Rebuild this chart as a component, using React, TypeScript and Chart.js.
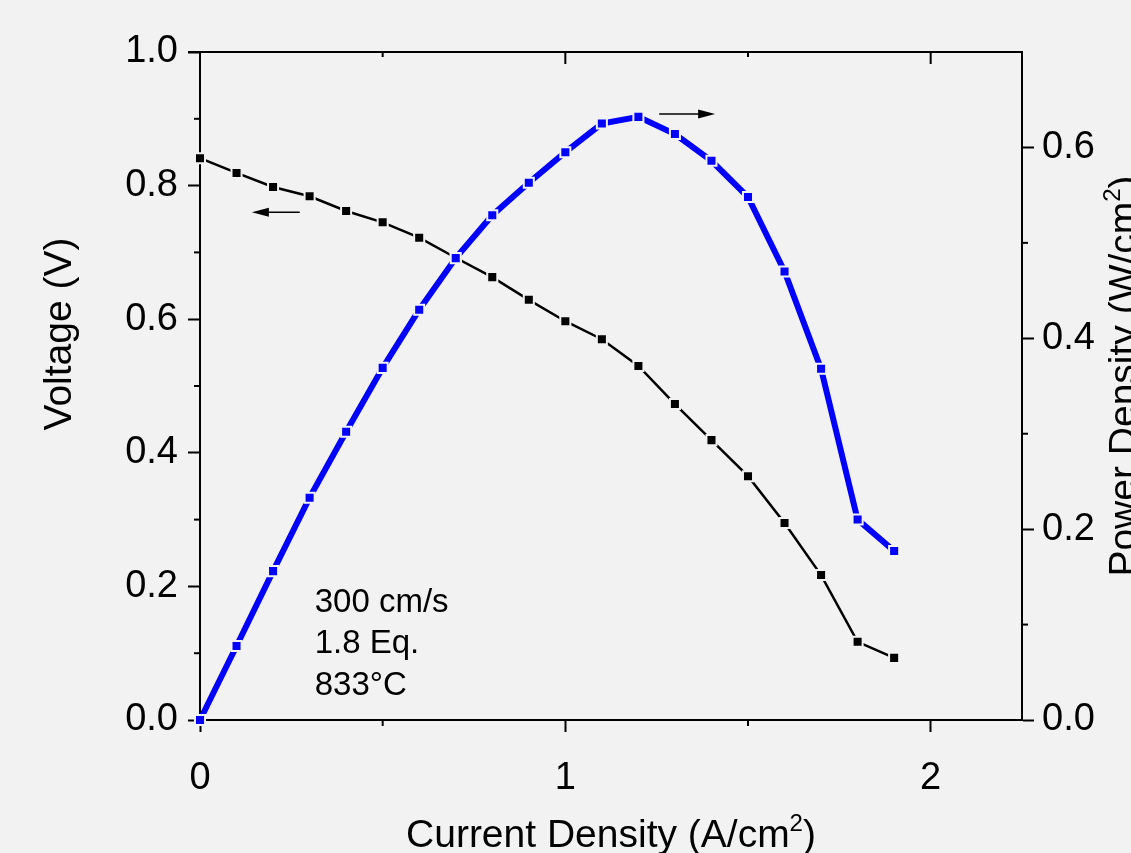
import React, { useEffect, useRef } from 'react';
import { Chart, registerables } from 'chart.js';

Chart.register(...registerables);

// ---- data ----
const currentDensity = [0, 0.1, 0.2, 0.3, 0.4, 0.5, 0.6, 0.7, 0.8, 0.9, 1.0, 1.1, 1.2, 1.3, 1.4, 1.5, 1.6, 1.7, 1.8, 1.9];
const voltage = [0.841, 0.819, 0.798, 0.784, 0.762, 0.745, 0.722, 0.692, 0.663, 0.629, 0.597, 0.570, 0.530, 0.473, 0.419, 0.365, 0.295, 0.217, 0.117, 0.093];
const powerDensity = [0, 0.0775, 0.156, 0.233, 0.302, 0.369, 0.430, 0.484, 0.529, 0.563, 0.595, 0.625, 0.632, 0.614, 0.586, 0.548, 0.470, 0.368, 0.210, 0.177];

const xMajorTicks = [0, 1, 2];
const xMinorTicks = [0.5, 1.5];
const leftMajorTicks = [0, 0.2, 0.4, 0.6, 0.8, 1.0];
const leftMinorTicks = [0.1, 0.3, 0.5, 0.7, 0.9];
const rightMajorTicks = [0, 0.2, 0.4, 0.6];
const rightMinorTicks = [0.1, 0.3, 0.5];

const annotationLines = ['300 cm/s', '1.8 Eq.', '833°C'];
const annotationX = 0.314;
const annotationY = [0.162, 0.100, 0.037];

const FONT = "'Liberation Sans', Arial, Helvetica, sans-serif";
const BG = '#f2f2f2';

function drawArrow(ctx: CanvasRenderingContext2D, x1: number, y1: number, x2: number, y2: number) {
  const ang = Math.atan2(y2 - y1, x2 - x1);
  const headLen = 17;
  const headHalf = 4.5;
  ctx.save();
  ctx.strokeStyle = '#000';
  ctx.fillStyle = '#000';
  ctx.lineWidth = 1.5;
  ctx.beginPath();
  ctx.moveTo(x1, y1);
  ctx.lineTo(x2 - Math.cos(ang) * headLen * 0.8, y2 - Math.sin(ang) * headLen * 0.8);
  ctx.stroke();
  ctx.beginPath();
  ctx.moveTo(x2, y2);
  ctx.lineTo(x2 - Math.cos(ang) * headLen - Math.sin(ang) * headHalf, y2 - Math.sin(ang) * headLen + Math.cos(ang) * headHalf);
  ctx.lineTo(x2 - Math.cos(ang) * headLen + Math.sin(ang) * headHalf, y2 - Math.sin(ang) * headLen - Math.cos(ang) * headHalf);
  ctx.closePath();
  ctx.fill();
  ctx.restore();
}

// draws "before" + superscript + "after", centered at cx on baseline y, in current transform
function drawSupText(ctx: CanvasRenderingContext2D, before: string, sup: string, after: string, cx: number, y: number, size: number) {
  const supSize = Math.round(size * 0.62);
  ctx.font = `${size}px ${FONT}`;
  const w1 = ctx.measureText(before).width;
  const w3 = ctx.measureText(after).width;
  ctx.font = `${supSize}px ${FONT}`;
  const w2 = ctx.measureText(sup).width;
  const total = w1 + w2 + w3;
  let x = cx - total / 2;
  ctx.textAlign = 'left';
  ctx.textBaseline = 'alphabetic';
  ctx.font = `${size}px ${FONT}`;
  ctx.fillText(before, x, y);
  x += w1;
  ctx.font = `${supSize}px ${FONT}`;
  ctx.fillText(sup, x, y - size * 0.42);
  x += w2;
  ctx.font = `${size}px ${FONT}`;
  ctx.fillText(after, x, y);
}

const decorPlugin = {
  id: 'decor',
  beforeDraw(chart: any) {
    const { ctx, width, height } = chart;
    ctx.save();
    ctx.fillStyle = BG;
    ctx.fillRect(0, 0, width, height);
    ctx.restore();
  },
  afterDraw(chart: any) {
    const { ctx, chartArea } = chart;
    const { left, right, top, bottom } = chartArea;
    const xs = chart.scales.x;
    const yl = chart.scales.y;
    const yr = chart.scales.y1;
    ctx.save();
    ctx.strokeStyle = '#000';
    ctx.lineWidth = 2;
    const line = (a: number, b: number, c: number, d: number) => {
      ctx.beginPath();
      ctx.moveTo(a, b);
      ctx.lineTo(c, d);
      ctx.stroke();
    };
    // top frame line
    line(left - 12, top, right + 1, top);
    // minor ticks
    leftMinorTicks.forEach((v) => { const p = yl.getPixelForValue(v); line(left - 6, p, left, p); });
    rightMinorTicks.forEach((v) => { const p = yr.getPixelForValue(v); line(right, p, right + 6, p); });
    xMinorTicks.forEach((v) => { const p = xs.getPixelForValue(v); line(p, bottom, p, bottom + 6); });
    // top axis ticks (inward)
    xMajorTicks.forEach((v) => { if (v === 0) return; const p = xs.getPixelForValue(v); line(p, top, p, top + 12); });
    xMinorTicks.forEach((v) => { const p = xs.getPixelForValue(v); line(p, top, p, top + 5); });

    // arrows
    drawArrow(ctx, xs.getPixelForValue(0.273), yl.getPixelForValue(0.760), xs.getPixelForValue(0.142), yl.getPixelForValue(0.760));
    drawArrow(ctx, xs.getPixelForValue(1.257), yr.getPixelForValue(0.635), xs.getPixelForValue(1.41), yr.getPixelForValue(0.635));

    // annotation text
    ctx.fillStyle = '#000';
    ctx.font = `33px ${FONT}`;
    ctx.textAlign = 'left';
    ctx.textBaseline = 'alphabetic';
    annotationLines.forEach((t, i) => {
      ctx.fillText(t, xs.getPixelForValue(annotationX), yl.getPixelForValue(annotationY[i]));
    });

    // axis titles
    const TS = 39;
    drawSupText(ctx, 'Current Density (A/cm', '2', ')', (left + right) / 2, 847, TS);

    ctx.save();
    ctx.translate(71, 334);
    ctx.rotate(-Math.PI / 2);
    ctx.font = `${TS}px ${FONT}`;
    ctx.textAlign = 'center';
    ctx.textBaseline = 'alphabetic';
    ctx.fillText('Voltage (V)', 0, 0);
    ctx.restore();

    ctx.save();
    ctx.translate(1136, 376);
    ctx.rotate(-Math.PI / 2);
    drawSupText(ctx, 'Power Density (W/cm', '2', ')', 0, 0, TS);
    ctx.restore();

    ctx.restore();
  },
};

export default function App() {
  const canvasRef = useRef<HTMLCanvasElement | null>(null);

  useEffect(() => {
    const canvas = canvasRef.current;
    if (!canvas) return;
    const tickFont = { family: FONT, size: 38 };
    const chart = new Chart(canvas, {
      type: 'line',
      data: {
        datasets: [
          {
            label: 'Power Density',
            data: currentDensity.map((x, i) => ({ x, y: powerDensity[i] })),
            yAxisID: 'y1',
            borderColor: '#0000ff',
            borderWidth: 6,
            backgroundColor: '#0000ff',
            pointStyle: 'rect',
            pointRadius: 7.1,
            pointBorderWidth: 2,
            pointBorderColor: BG,
            pointBackgroundColor: '#0000ff',
            tension: 0,
            clip: false as any,
          },
          {
            label: 'Voltage',
            data: currentDensity.map((x, i) => ({ x, y: voltage[i] })),
            yAxisID: 'y',
            borderColor: '#000000',
            borderWidth: 2.5,
            backgroundColor: '#000000',
            pointStyle: 'rect',
            pointRadius: 7.1,
            pointBorderWidth: 2,
            pointBorderColor: BG,
            pointBackgroundColor: '#000000',
            tension: 0,
            clip: false as any,
          },
        ],
      },
      options: {
        responsive: false,
        animation: false,
        devicePixelRatio: 1,
        layout: { padding: { top: 52, left: 0, right: 0, bottom: 0 } },
        plugins: { legend: { display: false }, tooltip: { enabled: false }, title: { display: false } },
        scales: {
          x: {
            type: 'linear',
            position: 'bottom',
            min: 0,
            max: 2.25,
            afterFit: (s: any) => { s.height = 133; },
            afterBuildTicks: (s: any) => { s.ticks = xMajorTicks.map((v) => ({ value: v })); },
            ticks: { font: tickFont, color: '#000', padding: 24, callback: (v: any) => String(v), maxRotation: 0, autoSkip: false },
            grid: { display: true, drawOnChartArea: false, drawTicks: true, tickLength: 12, tickWidth: 2, tickColor: '#000' },
            border: { display: true, color: '#000', width: 2 },
          },
          y: {
            type: 'linear',
            position: 'left',
            min: 0,
            max: 1,
            afterFit: (s: any) => { s.width = 200; },
            afterBuildTicks: (s: any) => { s.ticks = leftMajorTicks.map((v) => ({ value: v })); },
            ticks: { font: tickFont, color: '#000', padding: 10, callback: (v: any) => Number(v).toFixed(1), autoSkip: false },
            grid: { display: true, drawOnChartArea: false, drawTicks: true, tickLength: 12, tickWidth: 2, tickColor: '#000' },
            border: { display: true, color: '#000', width: 2 },
          },
          y1: {
            type: 'linear',
            position: 'right',
            min: 0,
            max: 0.7,
            afterFit: (s: any) => { s.width = 109; },
            afterBuildTicks: (s: any) => { s.ticks = rightMajorTicks.map((v) => ({ value: v })); },
            ticks: { font: tickFont, color: '#000', padding: 8, callback: (v: any) => Number(v).toFixed(1), autoSkip: false },
            grid: { display: true, drawOnChartArea: false, drawTicks: true, tickLength: 12, tickWidth: 2, tickColor: '#000' },
            border: { display: true, color: '#000', width: 2 },
          },
        },
      },
      plugins: [decorPlugin],
    } as any);
    return () => chart.destroy();
  }, []);

  return (
    <div style={{ position: 'fixed', left: 0, top: 0, width: 1131, height: 853, background: BG, overflow: 'hidden' }}>
      <canvas ref={canvasRef} width={1131} height={853} style={{ display: 'block', width: 1131, height: 853 }} />
    </div>
  );
}
